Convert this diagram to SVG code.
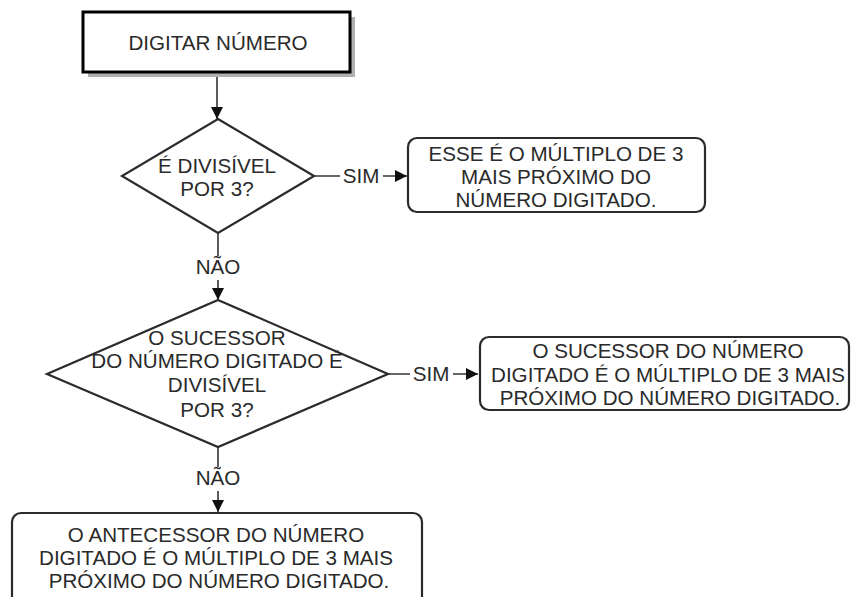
<svg xmlns="http://www.w3.org/2000/svg" width="852" height="597" viewBox="0 0 852 597">
<style>
text{font-family:"Liberation Sans",Arial,sans-serif;font-size:20.6px;fill:#2a2a2a;text-anchor:middle}
.shape{fill:#fff;stroke:#2b2b2b;stroke-width:2.2}
.conn{fill:none;stroke:#333;stroke-width:1.6}
.lbl{fill:#fff;stroke:none}
</style>
<defs>
<marker id="arr" markerUnits="userSpaceOnUse" markerWidth="12" markerHeight="12" refX="12" refY="6" orient="auto">
<path d="M0,0 L12,6 L0,12 Z" fill="#111"/>
</marker>
</defs>
<rect width="852" height="597" fill="#fff"/>
<g id="connectors">
<line class="conn" x1="217" y1="73" x2="217" y2="119" marker-end="url(#arr)"/>
<line class="conn" x1="314" y1="176" x2="407" y2="176" marker-end="url(#arr)"/>
<rect class="lbl" x="340" y="165" width="43" height="22"/>
<text x="361" y="183">SIM</text>
<line class="conn" x1="218" y1="233" x2="218" y2="300" marker-end="url(#arr)"/>
<rect class="lbl" x="195" y="256" width="46" height="24"/>
<text x="218" y="274">NÃO</text>
<line class="conn" x1="388" y1="374" x2="478" y2="374" marker-end="url(#arr)"/>
<rect class="lbl" x="410" y="363" width="43" height="22"/>
<text x="431" y="381">SIM</text>
<line class="conn" x1="218" y1="447" x2="218" y2="512" marker-end="url(#arr)"/>
<rect class="lbl" x="195" y="467" width="46" height="24"/>
<text x="218" y="485">NÃO</text>
</g>
<g id="start">
<rect x="88" y="17" width="267" height="60" fill="#b0b0b0"/>
<rect x="83" y="12" width="267" height="60" fill="#fff" stroke="#000" stroke-width="3"/>
<text x="218" y="50">DIGITAR NÚMERO</text>
</g>
<g id="dec1">
<polygon class="shape" points="218,119 314,176 218,233 122,176"/>
<text x="217" y="173">É DIVISÍVEL</text>
<text x="217" y="196">POR 3?</text>
</g>
<g id="res1">
<rect class="shape" x="408" y="138" width="297" height="74" rx="9"/>
<text x="556" y="161">ESSE É O MÚLTIPLO DE 3</text>
<text x="556" y="184">MAIS PRÓXIMO DO</text>
<text x="556" y="207">NÚMERO DIGITADO.</text>
</g>
<g id="dec2">
<polygon class="shape" points="218,300 388,374 218,447 47,374"/>
<text x="217" y="345">O SUCESSOR</text>
<text x="217" y="368">DO NÚMERO DIGITADO É</text>
<text x="217" y="392">DIVISÍVEL</text>
<text x="217" y="417">POR 3?</text>
</g>
<g id="res2">
<rect class="shape" x="480" y="337" width="369" height="73" rx="9"/>
<text x="668" y="358">O SUCESSOR DO NÚMERO</text>
<text x="668" y="382">DIGITADO É O MÚLTIPLO DE 3 MAIS</text>
<text x="670" y="405">PRÓXIMO DO NÚMERO DIGITADO.</text>
</g>
<g id="res3">
<rect class="shape" x="12" y="513" width="410" height="100" rx="9"/>
<text x="216" y="542">O ANTECESSOR DO NÚMERO</text>
<text x="216" y="565">DIGITADO É O MÚLTIPLO DE 3 MAIS</text>
<text x="219" y="588">PRÓXIMO DO NÚMERO DIGITADO.</text>
</g>
</svg>
